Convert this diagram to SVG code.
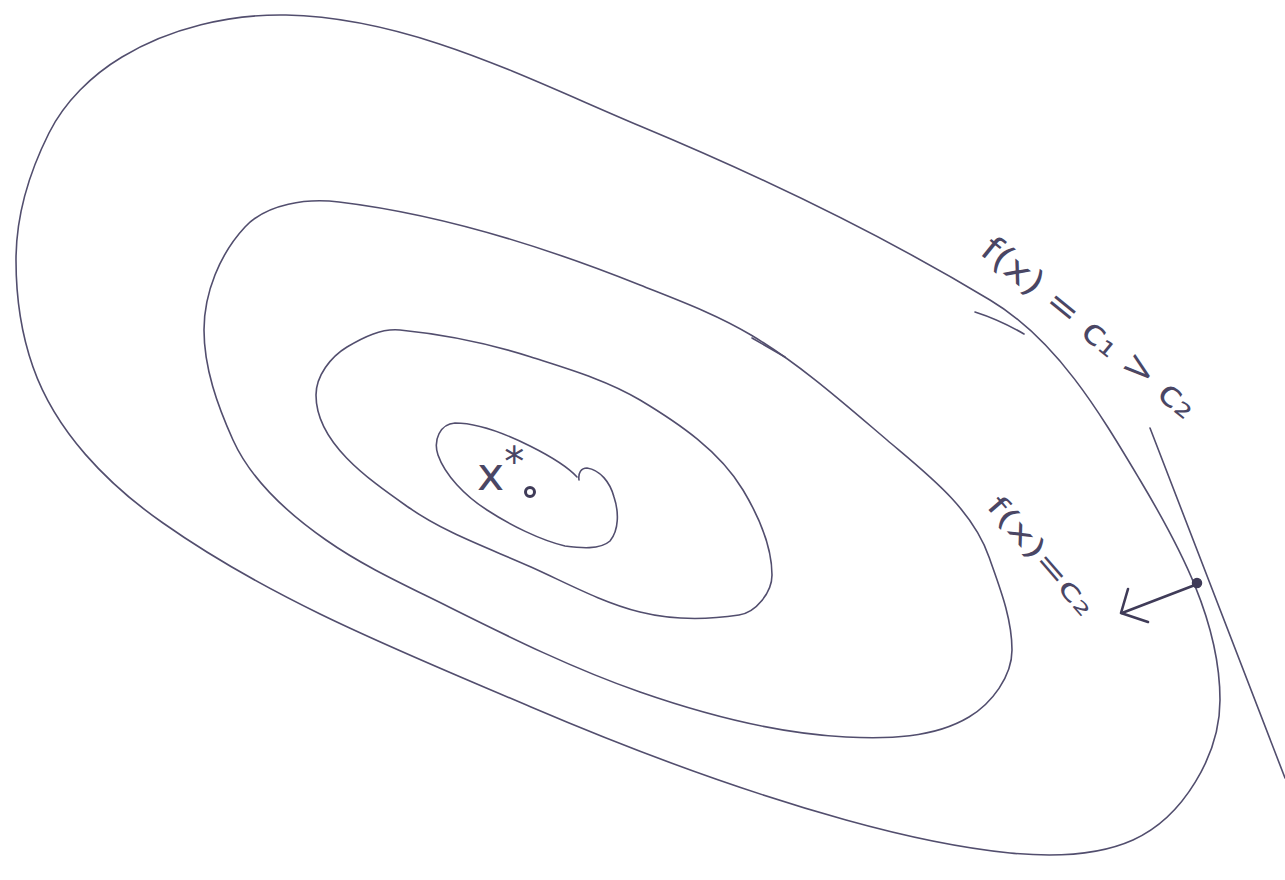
<svg xmlns="http://www.w3.org/2000/svg" width="1285" height="880" viewBox="0 0 1285 880">
<style>
.c{fill:none;stroke:#524e6e;stroke-width:1.6;stroke-linecap:round;stroke-linejoin:round}
.k{fill:none;stroke:#3f3b58;stroke-width:2.6;stroke-linecap:round;stroke-linejoin:round}
.t{font-family:"DejaVu Sans","Liberation Sans",sans-serif;fill:#4a4664;dominant-baseline:central}
</style>
<rect width="1285" height="880" fill="#ffffff"/>
<g id="contour-outer">
<path class="c" d="M286,15 C410,17.5 526,78 640,126 C760,176 879,233 990,300 C1057,340 1100,413 1140,480 C1180,547 1220,622 1220,700 C1220,755 1183,817.5 1133,840 C1095.6,856.8 1051,857 1010,853 C954.3,847.4 900,835 846,820 C738,790 634,751 531,707 C405,653 275,602 163,523 C107,484 55.4,431 33,367 C21,333 16,296 16,260 C16,216 29.3,172.3 49,133 C64.6,101.7 92,75 122,57 C170,28 230,14 286,15 Z"/>
<path class="c" d="M975,312 Q1000,320 1024,334"/>
</g>
<g id="contour-2">
<path class="c" d="M339,202 C442.3,214.4 543.5,246.4 640,285 C677.7,300 716.2,314.1 751,335 C800,364.3 843.5,403 887,440 C926.6,473.7 972,508 989,557 C999.6,587.2 1012,618 1012,650 C1012,676.5 991.7,703.4 969,717 C933.4,738.3 887.5,739 846,737 C776,733.5 706,715 640,692 C574,669 511.6,638.3 449,607 C407,586 364.5,567 326,540 C288.7,514 251.7,481.5 233,440 C217.4,405.3 204,368 204,330 C204,293 219.8,254 245,227 C267,203.4 307.2,198.2 339,202 Z"/>
<path class="c" d="M752,338 L785,357"/>
</g>
<g id="contour-3">
<path class="c" d="M400,330 C444.4,334.4 488.5,343.4 531,357 C568.1,368.9 606.6,380 640,400 C679,423.4 719.6,451 743,490 C758.4,515.7 772,545 772,575 C772,592.3 756.1,612.4 739,615 C706.4,619.9 672,620 640,612 C601.9,602.5 566.8,583.1 531,567 C489.4,548.3 445.3,533.2 408,507 C368.7,479.4 316,443 316,395 C316,376 330.7,356.8 347,347 C363,337.4 381.5,328.1 400,330 Z"/>
</g>
<g id="contour-inner">
<path class="c" d="M579,480 C578,473 581,468 587,468 C600,470 610,482 614,497 C619,512 619,530 610,541 C600,550 580,548 565,546 C540,540 510,525 487,510 C465,496 445,475 438,455 C433,440 440,424 455,423 C480,423 510,436 530,446 C550,456 567,466 577,477"/>
</g>
<g id="minimizer">
<text class="t" x="477" y="474" font-size="46">x<tspan font-size="40" dy="-12">*</tspan></text>
<circle cx="530" cy="492" r="4.5" fill="none" stroke="#3f3b58" stroke-width="3"/>
</g>
<g id="tangent">
<line class="c" x1="1150" y1="428" x2="1285" y2="778"/>
</g>
<g id="connectors">
<circle cx="1197" cy="583" r="4.5" fill="#3f3b58" stroke="#3f3b58" stroke-width="1.5"/>
<path class="k" d="M1195,585 L1122,613"/>
<path class="k" d="M1128,589 L1121,613 L1148,622"/>
</g>
<g id="labels">
<text class="t" font-size="35" textLength="266" lengthAdjust="spacingAndGlyphs" transform="translate(986,244) rotate(39)">f(x) = c₁ &gt; c₂</text>
<text class="t" font-size="29" textLength="148" lengthAdjust="spacingAndGlyphs" transform="translate(993,500) rotate(49)">f(x)=c₂</text>
</g>
</svg>
